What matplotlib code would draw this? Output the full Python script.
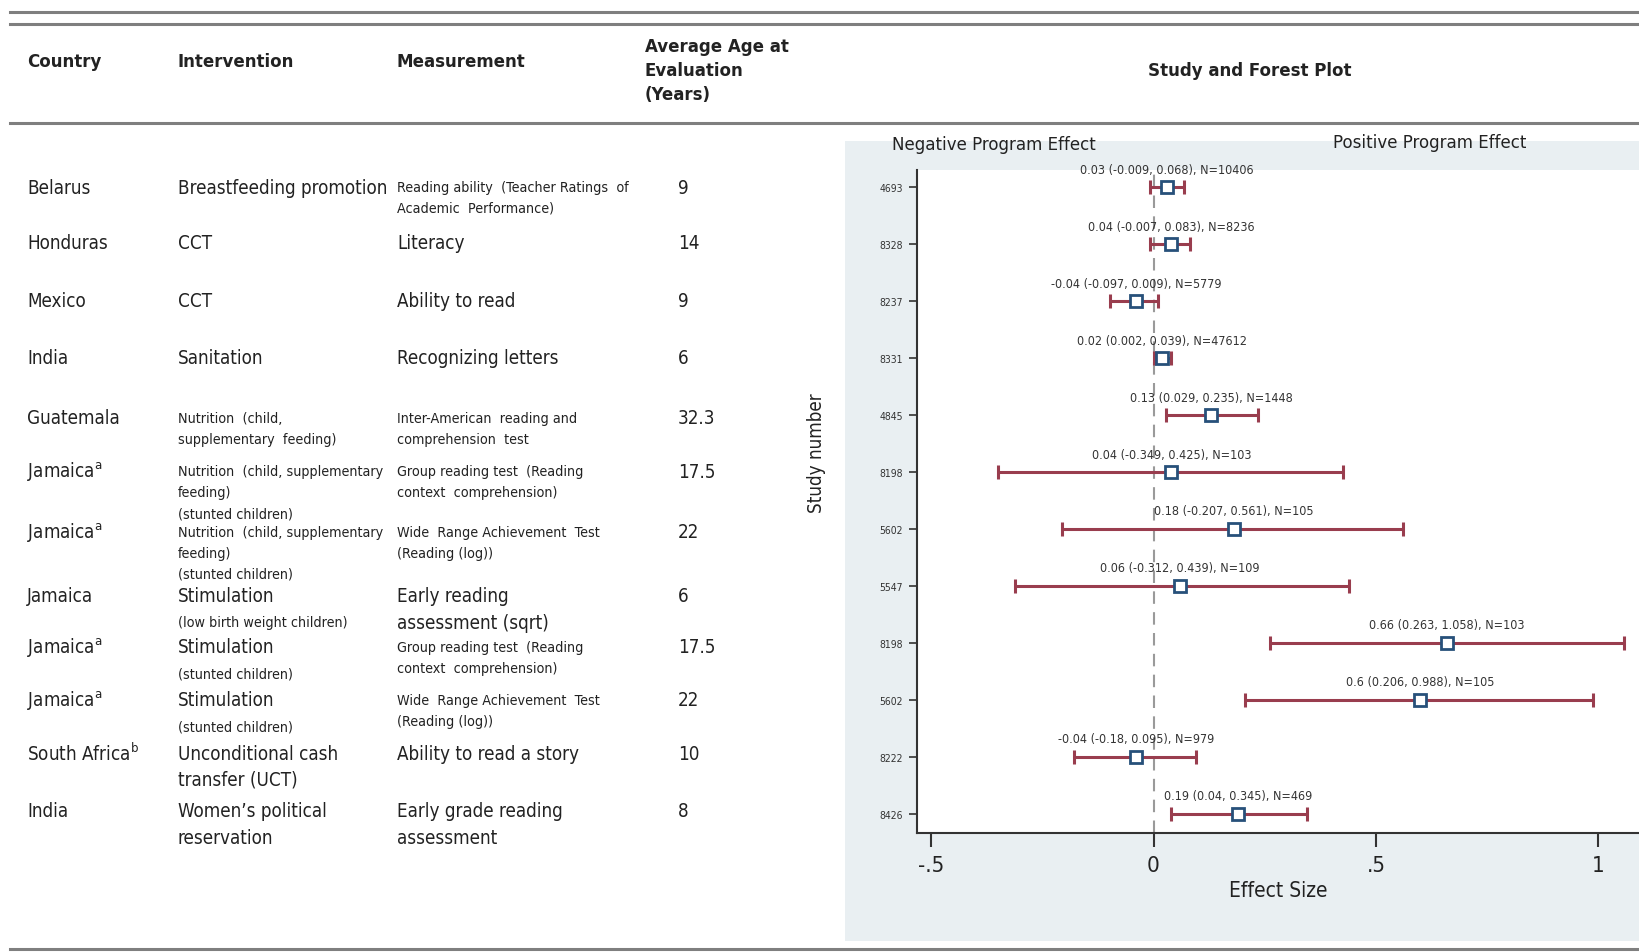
import matplotlib
matplotlib.use('Agg')
import matplotlib.pyplot as plt
from matplotlib.patches import Rectangle

# textos em fonte estreita
plt.rcParams['font.family'] = ['DejaVu Sans']
plt.rcParams['font.stretch'] = 'condensed'
plt.rcParams['mathtext.default'] = 'regular'

# ---- dados da tabela ----
countries = ['Belarus', 'Honduras', 'Mexico', 'India', 'Guatemala',
             'Jamaica$^{a}$', 'Jamaica$^{a}$', 'Jamaica', 'Jamaica$^{a}$',
             'Jamaica$^{a}$', 'South Africa$^{b}$', 'India']
interv_main = ['Breastfeeding promotion', 'CCT', 'CCT', 'Sanitation', '',
               '', '', 'Stimulation', 'Stimulation', 'Stimulation',
               'Unconditional cash\ntransfer (UCT)', 'Women\u2019s political\nreservation']
interv_note = ['', '', '', '', 'Nutrition  (child,\nsupplementary  feeding)',
               'Nutrition  (child, supplementary\nfeeding)\n(stunted children)',
               'Nutrition  (child, supplementary\nfeeding)\n(stunted children)',
               '(low birth weight children)', '(stunted children)',
               '(stunted children)', '', '']
measure_main = ['', 'Literacy', 'Ability to read', 'Recognizing letters', '',
                '', '', 'Early reading\nassessment (sqrt)', '', '',
                'Ability to read a story', 'Early grade reading\nassessment']
measure_note = ['Reading ability  (Teacher Ratings  of\nAcademic  Performance)',
                '', '', '', 'Inter-American  reading and\ncomprehension  test',
                'Group reading test  (Reading\ncontext  comprehension)',
                'Wide  Range Achievement  Test\n(Reading (log))', '',
                'Group reading test  (Reading\ncontext  comprehension)',
                'Wide  Range Achievement  Test\n(Reading (log))', '', '']
ages = ['9', '14', '9', '6', '32.3', '17.5', '22', '6', '17.5', '22', '10', '8']

# ---- dados do forest plot ----
studies = ['4693', '8328', '8237', '8331', '4845', '8198',
           '5602', '5547', '8198', '5602', '8222', '8426']
effect = [0.03, 0.04, -0.04, 0.02, 0.13, 0.04, 0.18, 0.06, 0.66, 0.6, -0.04, 0.19]
ci_low = [-0.009, -0.007, -0.097, 0.002, 0.029, -0.349, -0.207, -0.312,
          0.263, 0.206, -0.18, 0.04]
ci_high = [0.068, 0.083, 0.009, 0.039, 0.235, 0.425, 0.561, 0.439,
           1.058, 0.988, 0.095, 0.345]
n_obs = [10406, 8236, 5779, 47612, 1448, 103, 105, 109, 103, 105, 979, 469]

W, H = 1640, 953
TXT = '#222222'
LINE = '#7f7f7f'
BIG, SMALL = 13.5, 10.3


def fx(x):
    return x / W


def fy(y):
    return 1 - y / H


fig = plt.figure(figsize=(W / 100, H / 100), dpi=100)

# linhas horizontais da tabela
for y in (12.5, 25, 123.5, 950):
    fig.add_artist(plt.Line2D([fx(10), 1], [fy(y), fy(y)], color=LINE, lw=2.2))

# cabeçalho
head = dict(fontsize=13.3, fontweight='bold', color=TXT, va='center', ha='left')
fig.text(fx(27), fy(62), 'Country', **head)
fig.text(fx(178), fy(62), 'Intervention', **head)
fig.text(fx(397), fy(62), 'Measurement', **head)
fig.text(fx(645), fy(71), 'Average Age at\nEvaluation\n(Years)', linespacing=1.45, **head)
fig.text(fx(1250), fy(71), 'Study and Forest Plot',
         **{**head, 'ha': 'center'})

# linhas da tabela
row_y = [188, 244, 302, 359, 419, 472, 533, 597, 648, 701, 754, 812]
GAP = {BIG: 26.5, SMALL: 21}


def cell(x, y, main, note):
    lines = []
    if main:
        lines += [(t, BIG) for t in main.split('\n')]
    if note:
        lines += [(t, SMALL) for t in note.split('\n')]
    for t, s in lines:
        fig.text(fx(x), fy(y), t, fontsize=s, color=TXT, va='center', ha='left')
        y += GAP[s]


for i, yy in enumerate(row_y):
    cell(27, yy, countries[i], '')
    cell(178, yy, interv_main[i], interv_note[i])
    cell(397, yy, measure_main[i], measure_note[i])
    cell(678, yy, ages[i], '')

# painel cinza do gráfico
fig.add_artist(Rectangle((fx(845), fy(942)), 1 - fx(845), fy(142) - fy(942),
                         transform=fig.transFigure, facecolor='#e9eff2',
                         edgecolor='none', zorder=0))

ax = fig.add_axes([fx(917), fy(833.6), 1 - fx(917), fy(170.5) - fy(833.6)])
ax.set_facecolor('white')
for s in ('top', 'right'):
    ax.spines[s].set_visible(False)
for s in ('left', 'bottom'):
    ax.spines[s].set_color('#333333')
    ax.spines[s].set_linewidth(1.5)

pos = list(range(1, len(studies) + 1))
xerr = [[e - l for e, l in zip(effect, ci_low)],
        [h - e for e, h in zip(effect, ci_high)]]
ax.axvline(0, color='#9a9a9a', lw=1.5, dashes=(6, 4), zorder=1)
ax.errorbar(effect, pos, xerr=xerr, fmt='none', ecolor='#993d4e',
            elinewidth=2.2, capsize=5, capthick=2.2, zorder=2)
ax.plot(effect, pos, 's', ms=8, mfc='white', mec='#27507a', mew=2, zorder=3)

for e, l, h, n, p in zip(effect, ci_low, ci_high, n_obs, pos):
    lab = f'{e:g} ({l:g}, {h:g}), N={n}'
    ax.annotate(lab, (e, p), xytext=(0, 13), textcoords='offset points',
                ha='center', va='center', fontsize=9, color='#333333')

ax.set_xlim(-0.532, 1.094)
ax.set_ylim(12.33, 0.687)
ax.set_yticks(pos)
ax.set_yticklabels(studies)
ax.set_xticks([-0.5, 0, 0.5, 1])
ax.set_xticklabels(['-.5', '0', '.5', '1'])
ax.tick_params(axis='y', labelsize=7.5, length=6, width=1.2, color='#333333',
               labelcolor='#333333', pad=4)
ax.tick_params(axis='x', labelsize=16, length=10, width=1.5, color='#333333',
               labelcolor=TXT, pad=6)
ax.set_xlabel('Effect Size', fontsize=15, color=TXT, labelpad=4)

fig.text(fx(994), fy(145), 'Negative Program Effect', fontsize=13.3,
         color=TXT, ha='center', va='center')
fig.text(fx(1430), fy(143), 'Positive Program Effect', fontsize=13.3,
         color=TXT, ha='center', va='center')
fig.text(fx(817), fy(453), 'Study number', fontsize=13.5, color=TXT,
         rotation=90, ha='center', va='center')

fig.savefig('out.png', dpi=100)
